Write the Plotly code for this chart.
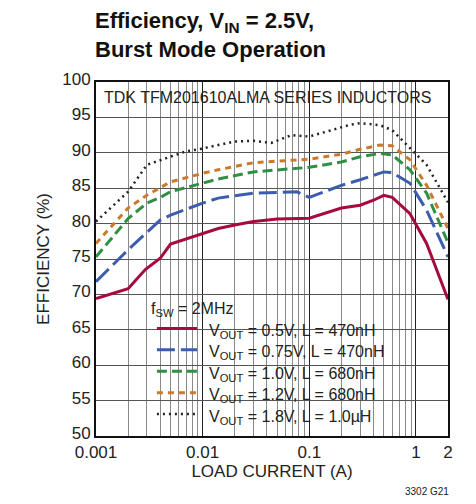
import plotly.graph_objects as go

# load current (A) and efficiency (%)
i_05 = [0.001, 0.002, 0.0029, 0.004, 0.005, 0.007, 0.01, 0.014, 0.02, 0.03, 0.05, 0.1, 0.2, 0.3, 0.4, 0.5, 0.6, 0.88, 1.26, 2.0]
e_05 = [69.4, 70.8, 73.5, 75.1, 77.1, 77.8, 78.6, 79.3, 79.8, 80.3, 80.65, 80.75, 82.2, 82.6, 83.3, 84.0, 83.7, 81.4, 77.2, 69.3]

i_075 = [0.001, 0.002, 0.004, 0.005, 0.01, 0.014, 0.03, 0.076, 0.1, 0.2, 0.3, 0.5, 0.6, 0.88, 1.26, 2.0]
e_075 = [71.8, 76.3, 80.5, 81.2, 82.9, 83.6, 84.3, 84.5, 83.7, 85.4, 86.2, 87.3, 87.2, 85.7, 81.9, 75.3]

i_10 = [0.001, 0.002, 0.003, 0.004, 0.005, 0.01, 0.014, 0.03, 0.076, 0.1, 0.2, 0.3, 0.46, 0.6, 0.88, 1.26, 2.0]
e_10 = [75.3, 80.7, 82.9, 83.7, 84.5, 85.7, 86.3, 87.3, 87.8, 87.95, 88.7, 89.45, 89.9, 89.7, 87.6, 84.3, 77.3]

i_12 = [0.001, 0.002, 0.003, 0.004, 0.005, 0.01, 0.014, 0.03, 0.076, 0.1, 0.2, 0.3, 0.46, 0.6, 0.88, 1.26, 2.0]
e_12 = [77.2, 82.2, 84.0, 85.1, 85.9, 87.1, 87.6, 88.6, 89.0, 89.1, 89.8, 90.5, 91.1, 91.0, 89.0, 85.4, 79.3]

i_18 = [0.001, 0.002, 0.003, 0.004, 0.005, 0.007, 0.01, 0.014, 0.02, 0.03, 0.044, 0.068, 0.1, 0.19, 0.233, 0.3, 0.46, 0.6, 0.88, 1.26, 2.0]
e_18 = [80.3, 84.5, 88.3, 89.0, 89.45, 90.2, 90.6, 91.1, 91.6, 91.7, 91.4, 92.5, 92.3, 93.5, 93.9, 94.2, 93.9, 93.2, 90.6, 88.3, 83.0]

series = [
    (i_05, e_05, "V<sub>OUT</sub> = 0.5V, L = 470nH", "#A50B3C", "solid", 3),
    (i_075, e_075, "V<sub>OUT</sub> = 0.75V, L = 470nH", "#3C5DAE", "18px,6px", 3),
    (i_10, e_10, "V<sub>OUT</sub> = 1.0V, L = 680nH", "#2F8F44", "10px,5px", 3),
    (i_12, e_12, "V<sub>OUT</sub> = 1.2V, L = 680nH", "#CB7A2C", "6px,5px", 3),
    (i_18, e_18, "V<sub>OUT</sub> = 1.8V, L = 1.0µH", "#222222", "2px,4px", 2.5),
]

FONT = "Liberation Sans, Arial, sans-serif"

fig = go.Figure()
for x, y, name, color, dash, w in series:
    fig.add_trace(go.Scatter(x=x, y=y, mode="lines", name=name, showlegend=False,
                             line=dict(color=color, dash=dash, width=w)))

# white boxes hiding the grid behind the header text and the legend
fig.add_shape(type="rect", xref="paper", yref="y", x0=0, x1=1, y0=95.7, y1=100,
              fillcolor="white", line_width=0, layer="between")
fig.add_shape(type="rect", xref="paper", yref="y", x0=0.145, x1=0.845, y0=51.1, y1=69.2,
              fillcolor="white", line_width=0, layer="between")

# legend drawn by hand so the row spacing matches the original
fig.add_annotation(text="f<sub>SW</sub> = 2MHz", xref="paper", yref="paper",
                   x=0.151, y=0.357, xanchor="left", yanchor="middle", showarrow=False,
                   font=dict(family=FONT, size=16, color="#222"))
leg_y, leg_dy = 0.304, 0.0605
for k, (_, _, name, color, dash, w) in enumerate(series):
    yy = leg_y - k * leg_dy
    fig.add_shape(type="line", xref="paper", yref="paper", x0=0.173, x1=0.287, y0=yy, y1=yy,
                  line=dict(color=color, dash=dash, width=w))
    fig.add_annotation(text=name, xref="paper", yref="paper", x=0.315, y=yy, yshift=-3,
                       xanchor="left", yanchor="middle", showarrow=False,
                       font=dict(family=FONT, size=16, color="#222"))

fig.add_annotation(text="TDK TFM201610ALMA SERIES INDUCTORS", xref="paper", yref="y",
                   x=0.017, y=97.85, xanchor="left", yanchor="middle", showarrow=False,
                   font=dict(family=FONT, size=16, color="#222"))

fig.add_annotation(text="<b>Efficiency, V<sub>IN</sub> = 2.5V,<br>Burst Mode Operation</b>",
                   xref="paper", yref="paper", x=-0.008, y=1.0, yshift=76,
                   xanchor="left", yanchor="top", align="left", showarrow=False,
                   font=dict(family=FONT, size=22, color="#111"))

fig.add_annotation(text="3302 G21", xref="paper", yref="paper", x=1.0, y=0, yshift=-48, xshift=3,
                   xanchor="right", yanchor="top", showarrow=False,
                   font=dict(family=FONT, size=10, color="#222"))

fig.update_layout(
    width=476, height=504,
    margin=dict(l=88, r=36, t=74, b=76),
    paper_bgcolor="white", plot_bgcolor="white",
    font=dict(family=FONT, size=16, color="#222"),
    showlegend=False,
)

fig.update_xaxes(type="log", range=[-3, 0.30103],
                 tickvals=[0.001, 0.01, 0.1, 1, 2], ticktext=["0.001", "0.01", "0.1", "1", "2"],
                 showgrid=True, gridcolor="#222", gridwidth=1,
                 minor=dict(dtick="D1", showgrid=True, gridcolor="#8a8a8a", gridwidth=1, ticks=""),
                 ticks="", showline=True, linecolor="#111", linewidth=2, mirror=True,
                 zeroline=False, tickfont=dict(size=17),
                 title=dict(text="LOAD CURRENT (A)", font=dict(size=17), standoff=4))

fig.update_yaxes(range=[50, 100], dtick=5, showgrid=True, gridcolor="#555", gridwidth=1,
                 ticks="", showline=True, linecolor="#111", linewidth=2, mirror=True,
                 zeroline=False, tickfont=dict(size=17), ticklabelshift=-3,
                 title=dict(text="EFFICIENCY (%)", font=dict(size=17), standoff=8))

fig.write_html("out.html")
